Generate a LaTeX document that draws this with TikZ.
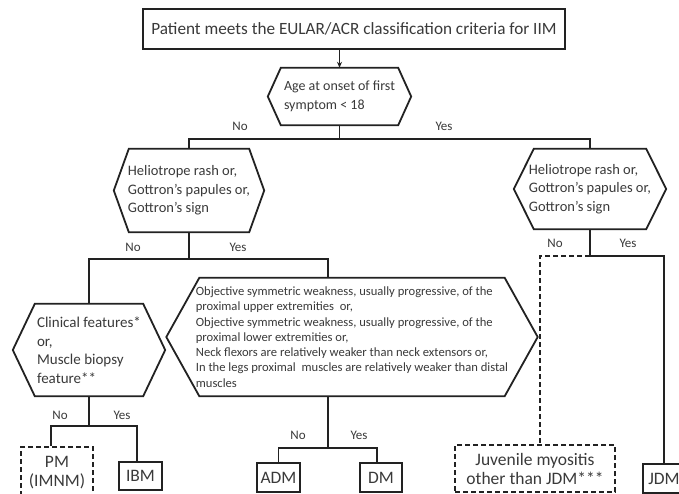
\documentclass[tikz,border=0pt]{standalone}
\usepackage{fontspec}
\setmainfont{Carlito}
\usetikzlibrary{arrows.meta}
\definecolor{linegray}{HTML}{222222}
\definecolor{textgray}{HTML}{3A3A3A}
\begin{document}
\begin{tikzpicture}[x=1pt, y=-1pt,
    line/.style={line width=1.8pt, draw=linegray},
    dashline/.style={line, dash pattern=on 5pt off 3pt},
    hexbox/.style={inner sep=0pt, align=left, text=textgray, font=\fontsize{14.5}{18.5}\selectfont},
    endbox/.style={line, inner sep=0pt, align=center, text=textgray, font=\fontsize{17.5}{19}\selectfont},
    answer/.style={text=textgray, font=\fontsize{13}{14}\selectfont, inner sep=0pt}]
    \useasboundingbox (0,0) rectangle (679,493);
    \clip (0,0) rectangle (679,493);
    \fill[white] (0,0) rectangle (679,493);

    % question boxes
    \node[line, minimum width=422pt, minimum height=40pt, inner sep=0pt, text=textgray,
        font=\fontsize{17.2}{19}\selectfont] (top) at (354,29)
        {Patient meets the EULAR/ACR classification criteria for IIM};
    \node[hexbox, minimum width=143pt, minimum height=57pt,
        font=\fontsize{14}{19}\selectfont] (age) at (339.5,96.5)
        {Age at onset of first\\symptom < 18};
    \node[hexbox, minimum width=150pt, minimum height=83pt] (helioL) at (189,190.5)
        {Heliotrope rash or,\\Gottron’s papules or,\\Gottron’s sign};
    \node[hexbox, minimum width=152pt, minimum height=80pt] (helioR) at (590,189)
        {Heliotrope rash or,\\Gottron’s papules or,\\Gottron’s sign};
    \node[hexbox, minimum width=152pt, minimum height=92pt,
        font=\fontsize{15}{18.5}\selectfont] (clinical) at (89,350)
        {Clinical features*\\or,\\Muscle biopsy\\feature**};
    \node[hexbox, minimum width=371pt, minimum height=118pt,
        font=\fontsize{12.6}{15.3}\selectfont] (objective) at (352,337)
        {Objective symmetric weakness, usually progressive, of the\\
         proximal upper extremities~ or,\\
         Objective symmetric weakness, usually progressive, of the\\
         proximal lower extremities or,\\
         Neck flexors are relatively weaker than neck extensors or,\\
         In the legs proximal~ muscles are relatively weaker than distal\\
         muscles};
    \foreach \n/\d in {age/13, helioL/15, helioR/20, clinical/22, objective/33}
        \draw[line] (\n.west) -- ([xshift=\d pt]\n.north west) -- ([xshift=-\d pt]\n.north east)
            -- (\n.east) -- ([xshift=-\d pt]\n.south east) -- ([xshift=\d pt]\n.south west) -- cycle;

    % outcomes
    \node[endbox, dashline, minimum width=72pt, minimum height=52pt] (pm) at (57,473) {PM\\(IMNM)};
    \node[endbox, minimum width=43pt, minimum height=28pt] (ibm) at (140.5,476) {IBM};
    \node[endbox, minimum width=43pt, minimum height=29pt] (adm) at (278.5,477.5) {ADM};
    \node[endbox, minimum width=42pt, minimum height=29pt] (dm) at (381,477.5) {DM};
    \node[endbox, dashline, minimum width=160pt, minimum height=47pt] (juv) at (535,468.5)
        {Juvenile myositis\\other than JDM***};
    \node[endbox, minimum width=42pt, minimum height=29pt] (jdm) at (664,478.5) {JDM};

    % branch points
    \coordinate (s1) at (339.5,139);
    \coordinate (s2) at (189,259);
    \coordinate (s3) at (89,426);
    \coordinate (s4) at (328,448);
    \coordinate (s5) at (590,256);

    % connectors
    \draw[line, -{Stealth[length=6pt, width=5pt]}] (top.south -| age.north) -- (age.north);
    \draw[line] (age.south) -- (s1);
    \draw[line] (helioL.north) |- (s1) -| (helioR.north);
    \draw[line] (helioL.south) -- (s2);
    \draw[line] (clinical.north) |- (s2) -| ([xshift=-24pt]objective.north);
    \draw[line] (clinical.south) -- (s3);
    \draw[line] ([xshift=-6pt]pm.north) |- (s3) -| ([xshift=-3.5pt]ibm.north);
    \draw[line] ([xshift=-24pt]objective.south) -- (s4);
    \draw[line] (adm.north) |- (s4) -| ([xshift=-4pt]dm.north);
    \draw[line] (helioR.south) -- (s5);
    \draw[dashline] (s5) -| ([xshift=5pt]juv.north);
    \draw[line] (s5) -| (jdm.north);

    % answers
    \node[answer] (no1) at (240,126) {No};
    \node[answer] (yes1) at (444,126) {Yes};
    \node[answer] (no2) at (133,247) {No};
    \node[answer] (yes2) at (238,247) {Yes};
    \node[answer] (no3) at (60,415) {No};
    \node[answer] (yes3) at (122,415) {Yes};
    \node[answer] (no4) at (298,435) {No};
    \node[answer] (yes4) at (359,435) {Yes};
    \node[answer] (no5) at (555,243) {No};
    \node[answer] (yes5) at (628,243) {Yes};
\end{tikzpicture}
\end{document}
